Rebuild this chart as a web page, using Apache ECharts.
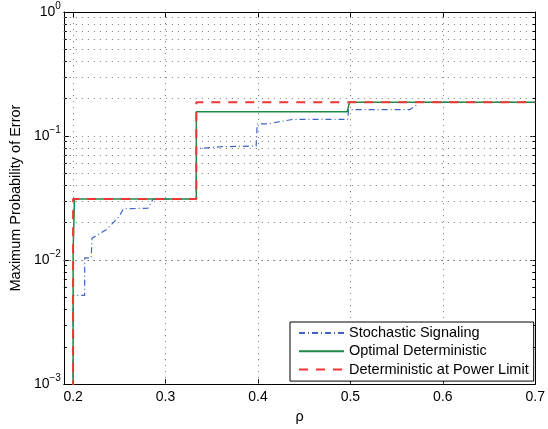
<!DOCTYPE html>
<html>
<head>
<meta charset="utf-8">
<script src="https://cdn.jsdelivr.net/npm/echarts@6/dist/echarts.min.js"></script>
<style>
  html, body { margin: 0; padding: 0; background: #fff; }
  #view { width: 548px; height: 429px; }
</style>
</head>
<body>
<div id="view"></div>
<script>
// values (rho, max probability of error)
var stochasticRho = [0.2, 0.2, 0.2125, 0.2125, 0.2195, 0.2205, 0.237, 0.2498, 0.2545, 0.281, 0.2865, 0.3333,
                     0.3333, 0.36, 0.398, 0.3992, 0.411, 0.437, 0.497, 0.498, 0.564, 0.5706, 0.573, 0.7];
var stochasticPe  = [0.0001, 0.0052, 0.0052, 0.0104, 0.0104, 0.015, 0.0178, 0.0225, 0.0259, 0.0262, 0.031, 0.031,
                     0.079, 0.082, 0.083, 0.125, 0.1255, 0.136, 0.136, 0.163, 0.163, 0.175, 0.187, 0.187];

var optimalRho = [0.2, 0.2, 0.2015, 0.3333, 0.3333, 0.4965, 0.499, 0.7];
var optimalPe  = [0.0001, 0.012, 0.031, 0.031, 0.157, 0.157, 0.187, 0.187];

var powerRho = [0.2, 0.2, 0.3333, 0.3333, 0.7];
var powerPe  = [0.0001, 0.031, 0.031, 0.187, 0.187];

var seriesNames = ['Stochastic Signaling', 'Optimal Deterministic', 'Deterministic at Power Limit'];

var xTicks = [0.2, 0.3, 0.4, 0.5, 0.6, 0.7];
var yDecades = [0.001, 0.01, 0.1, 1];
var yMinor = [];
[0.001, 0.01, 0.1].forEach(function (d) {
  for (var k = 2; k <= 9; k++) yMinor.push(+(d * k).toPrecision(3));
});

function pairs(xs, ys) {
  return xs.map(function (x, i) { return [x, ys[i]]; });
}

var font = 'Liberation Sans, Arial, Helvetica, sans-serif';
var gridDot = { color: '#777', width: 1, type: [1, 5] };

var gridLines = [];
xTicks.forEach(function (v) { if (v < 0.7) gridLines.push({ xAxis: v }); });
yDecades.concat(yMinor).forEach(function (v) { if (v > 0.001 && v < 1) gridLines.push({ yAxis: v }); });

function xAx(pos, withLine, ticks, len, labels) {
  return {
    type: 'value', position: pos, min: 0.19, max: 0.7,
    axisLine: { show: withLine, lineStyle: { color: '#000', width: 1 } },
    axisTick: { inside: true, length: len, customValues: ticks, lineStyle: { color: '#000' } },
    axisLabel: labels ? {
      customValues: xTicks, margin: 6, color: '#000', fontSize: 14, fontFamily: font,
      formatter: function (v) { return v.toFixed(1); }
    } : { show: false },
    splitLine: { show: false }
  };
}

function yAx(pos, withLine, ticks, len, labels) {
  var ax = {
    type: 'log', logBase: 10, position: pos, min: 0.001, max: 1,
    axisLine: { show: withLine, lineStyle: { color: '#000', width: 1 } },
    axisTick: { inside: true, length: len, customValues: ticks, lineStyle: { color: '#000' } },
    axisLabel: { show: false },
    splitLine: { show: false }
  };
  if (labels) {
    ax.axisLabel = {
      customValues: yDecades, margin: 3, color: '#000', fontFamily: font,
      formatter: function (v) {
        var e = Math.round(Math.log10(v));
        return '{b|10}{s|' + (e < 0 ? '\u2212' + (-e) : e) + '}';
      },
      rich: {
        b: { fontSize: 14, lineHeight: 22, fontFamily: font, color: '#000' },
        s: { fontSize: 10, lineHeight: 10, verticalAlign: 'top', fontFamily: font, color: '#000' }
      }
    };
    ax.name = 'Maximum Probability of Error';
    ax.nameLocation = 'middle';
    ax.nameGap = 40;
    ax.nameTextStyle = { fontSize: 14.5, fontFamily: font, color: '#000' };
  }
  return ax;
}

var xAxes = [
  xAx('bottom', true, xTicks, 5, true),
  xAx('top', true, xTicks, 5, false)
];
xAxes[0].name = '\u03c1';
xAxes[0].nameLocation = 'middle';
xAxes[0].nameGap = 24;
xAxes[0].nameTextStyle = { fontSize: 14.5, fontFamily: font, color: '#000' };

var yAxes = [
  yAx('left', true, yDecades, 5, true),
  yAx('left', false, yMinor, 3, false),
  yAx('right', true, yDecades, 5, false),
  yAx('right', false, yMinor, 3, false)
];

var myChart = echarts.init(document.getElementById('view'));

var option = {
  animation: false,
  backgroundColor: '#fff',
  grid: { left: 63, right: 8, top: 12, bottom: 42, containLabel: false },
  legend: {
    data: seriesNames,
    orient: 'vertical',
    left: 290, top: 322,
    padding: [2.5, 5, 3, 8],
    itemGap: 1.3,
    itemWidth: 45, itemHeight: 14,
    borderColor: '#000', borderWidth: 1, borderRadius: 0,
    backgroundColor: '#fff',
    itemStyle: { opacity: 0 },
    textStyle: { fontSize: 14.5, fontFamily: font, color: '#000', lineHeight: 17 },
    z: 10
  },
  xAxis: xAxes,
  yAxis: yAxes,
  series: [
    {
      name: 'grid', type: 'line', data: [], silent: true, z: 1,
      markLine: { silent: true, symbol: 'none', label: { show: false }, lineStyle: gridDot, data: gridLines }
    },
    {
      name: seriesNames[0], type: 'line', data: pairs(stochasticRho, stochasticPe),
      showSymbol: false, symbol: 'none', z: 3,
      lineStyle: { color: '#3f63c4', width: 1.2, type: [6, 3, 1, 3] },
      itemStyle: { color: '#3f63c4' }
    },
    {
      name: seriesNames[1], type: 'line', data: pairs(optimalRho, optimalPe),
      showSymbol: false, symbol: 'none', z: 4,
      lineStyle: { color: '#1f8a45', width: 1.5 },
      itemStyle: { color: '#1f8a45' }
    },
    {
      name: seriesNames[2], type: 'line', data: pairs(powerRho, powerPe),
      showSymbol: false, symbol: 'none', z: 5,
      lineStyle: { color: '#f03535', width: 2, type: [9, 8] },
      itemStyle: { color: '#f03535' }
    }
  ]
};

myChart.setOption(option);
</script>
</body>
</html>
